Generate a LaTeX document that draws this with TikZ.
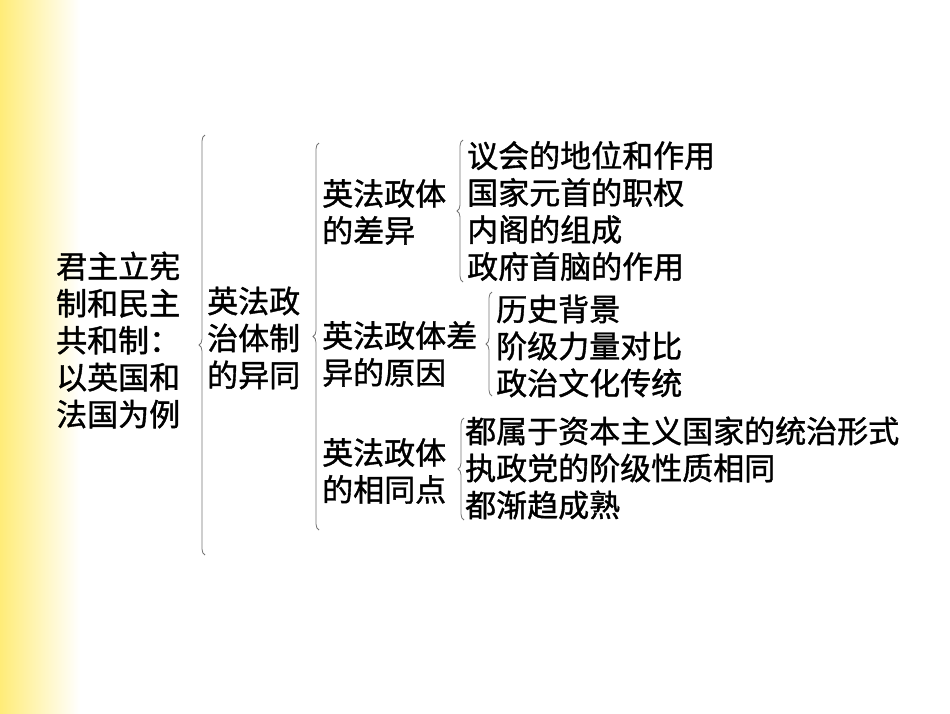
\documentclass[tikz,border=0pt]{standalone}
\usepackage{fontspec}
\newfontfamily\cjk[FakeBold=1.2]{Noto Sans CJK SC}
\usetikzlibrary{decorations.pathreplacing}
\begin{document}
\begin{tikzpicture}[x=1pt,y=-1pt,
  txt/.style={anchor=west,align=left,inner sep=0pt,font=\cjk\fontsize{31}{37}\selectfont},
  br/.style={draw=black!55,line width=0.8pt,decorate,decoration={brace,amplitude=6pt,aspect=0.5}}]
\useasboundingbox (0,0) rectangle (950,713);
\shade[left color={rgb,255:red,255;green,236;blue,120},right color=white] (0,0) rectangle (80,713);
\node[txt] (a) at (56,340) {君主立宪\\制和民主\\共和制：\\以英国和\\法国为例};
\node[txt] (b) at (207,338) {英法政\\治体制\\的异同};
\node[txt] (c1) at (322,212) {英法政体\\的差异};
\node[txt] (c2) at (322,354) {英法政体差\\异的原因};
\node[txt] (c3) at (322,471) {英法政体\\的相同点};
\node[txt] (d1) at (467,211) {议会的地位和作用\\国家元首的职权\\内阁的组成\\政府首脑的作用};
\node[txt] (d2) at (496,346) {历史背景\\阶级力量对比\\政治文化传统};
\node[txt] (d3) at (465,468) {都属于资本主义国家的统治形式\\执政党的阶级性质相同\\都渐趋成熟};
\coordinate (b1t) at (205,135); \coordinate (b1b) at (205,555);
\coordinate (b2t) at (319,143); \coordinate (b2b) at (319,530);
\coordinate (b3t) at (463,140); \coordinate (b3b) at (463,282);
\coordinate (b4t) at (492,292); \coordinate (b4b) at (492,396);
\coordinate (b5t) at (464,418); \coordinate (b5b) at (464,520);
\draw[br] (b1b) -- (b1t);
\draw[br] (b2b) -- (b2t);
\draw[br] (b3b) -- (b3t);
\draw[br] (b4b) -- (b4t);
\draw[br] (b5b) -- (b5t);
\end{tikzpicture}
\end{document}
